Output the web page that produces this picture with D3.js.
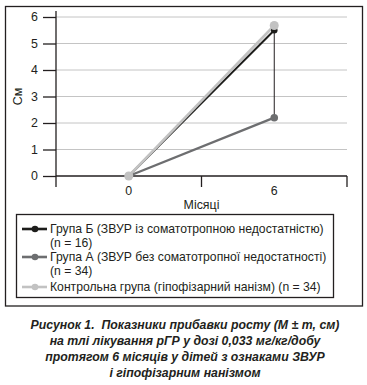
<!DOCTYPE html>
<html lang="uk">
<head>
<meta charset="utf-8">
<title>Рисунок 1</title>
<script src="https://cdn.jsdelivr.net/npm/d3@7"></script>
<style>
  html, body { margin: 0; padding: 0; background: #fff; }
  body { width: 367px; height: 385px; overflow: hidden; font-family: "Liberation Sans", Arial, sans-serif; }
  svg text { fill: #231f20; }
</style>
</head>
<body>
<div id="chart"></div>
<script>
// data
var months = ["0", "6"];
var groupB = [0, 5.5];
var groupA = [0, 2.2];
var control = [0, 5.68];
var yTicks = [0, 1, 2, 3, 4, 5, 6];
var legendLabels = [
  ["Група Б (ЗВУР із соматотропною недостатністю)", "(n = 16)"],
  ["Група А (ЗВУР без соматотропної недостатності)", "(n = 34)"],
  ["Контрольна група (гіпофізарний нанізм) (n = 34)"]
];
var captionLines = [
  "Рисунок 1.  Показники прибавки росту (М ± m, см)",
  "на тлі лікування рГР у дозі 0,033 мг/кг/добу",
  "протягом 6 місяців у дітей з ознаками ЗВУР",
  "і гіпофізарним нанізмом"
];

var W = 367, H = 385;
var svg = d3.select("#chart").append("svg").attr("width", W).attr("height", H);

// frame
svg.append("rect").attr("x", 5.5).attr("y", 6.5).attr("width", 357).attr("height", 299.5)
  .attr("fill", "none").attr("stroke", "#231f20").attr("stroke-width", 1.3);

var x = d3.scaleBand().domain(months).range([56, 347]);
var y = d3.scaleLinear().domain([0, 6]).range([176, 17]);

// gridlines
svg.append("g").selectAll("line").data(yTicks.filter(function(d) { return d > 0; })).enter()
  .append("line")
  .attr("x1", 56).attr("x2", 347)
  .attr("y1", function(d) { return y(d); }).attr("y2", function(d) { return y(d); })
  .attr("stroke", "#c4c4c4").attr("stroke-width", 1);

// y axis
var yAxis = svg.append("g").attr("transform", "translate(56,0)")
  .call(d3.axisLeft(y).tickValues(yTicks).tickFormat(d3.format("d")).tickSize(13).tickPadding(5));
yAxis.select(".domain").attr("d", "M0," + (y(6) - 6) + "V" + y(0)).attr("stroke", "#231f20").attr("stroke-width", 1.3);
yAxis.selectAll(".tick line").attr("stroke", "#231f20").attr("stroke-width", 1.3);
yAxis.selectAll(".tick text").attr("font-size", "12.4px").attr("font-family", "Liberation Sans, Arial, sans-serif").style("fill", "#231f20");

// x axis: ticks at band edges, labels at centers
var xAxisG = svg.append("g");
xAxisG.append("line").attr("x1", 56).attr("x2", 347).attr("y1", y(0)).attr("y2", y(0))
  .attr("stroke", "#231f20").attr("stroke-width", 1.3);
var edges = months.map(function(m) { return x(m); }).concat([x(months[months.length - 1]) + x.bandwidth()]);
xAxisG.selectAll(".edge").data(edges).enter().append("line")
  .attr("x1", function(d) { return d; }).attr("x2", function(d) { return d; })
  .attr("y1", y(0)).attr("y2", y(0) + 11)
  .attr("stroke", "#231f20").attr("stroke-width", 1.3);
xAxisG.selectAll(".lbl").data(months).enter().append("text")
  .attr("x", function(d) { return x(d) + x.bandwidth() / 2; })
  .attr("y", 195).attr("text-anchor", "middle").attr("font-size", "12.4px").text(function(d) { return d; });

svg.append("text").attr("x", x(months[0]) + x.bandwidth()).attr("y", 209)
  .attr("text-anchor", "middle").attr("font-size", "12.4px").text("Місяці");
svg.append("text").attr("transform", "translate(22," + y(3) + ") rotate(-90)")
  .attr("text-anchor", "middle").attr("font-size", "12.4px").text("См");

var cx = function(i) { return x(months[i]) + x.bandwidth() / 2; };

// connector between groups at 6 months
svg.append("line").attr("x1", cx(1)).attr("x2", cx(1))
  .attr("y1", y(groupB[1])).attr("y2", y(groupA[1]))
  .attr("stroke", "#231f20").attr("stroke-width", 1);

var series = [
  { values: groupA, color: "#6d6e70", w: 2.4, r: 3.8 },
  { values: groupB, color: "#1d1d1b", w: 2, r: 3.3 },
  { values: control, color: "#c2c2c2", w: 2.6, r: 4.5 }
];
var line = d3.line().x(function(d, i) { return cx(i); }).y(function(d) { return y(d); });
series.forEach(function(s) {
  svg.append("path").datum(s.values).attr("d", line)
    .attr("fill", "none").attr("stroke", s.color).attr("stroke-width", s.w);
});
series.forEach(function(s) {
  svg.selectAll(null).data(s.values).enter().append("circle")
    .attr("cx", function(d, i) { return cx(i); }).attr("cy", function(d) { return y(d); })
    .attr("r", s.r).attr("fill", s.color);
});

// legend
svg.append("rect").attr("x", 16.5).attr("y", 214.5).attr("width", 317).attr("height", 83)
  .attr("fill", "none").attr("stroke", "#231f20").attr("stroke-width", 1.3);
var legendColors = ["#1d1d1b", "#6d6e70", "#c2c2c2"];
var legendY = [229, 257, 287];
legendLabels.forEach(function(lines, i) {
  var g = svg.append("g");
  g.append("line").attr("x1", 22).attr("x2", 47).attr("y1", legendY[i]).attr("y2", legendY[i])
    .attr("stroke", legendColors[i]).attr("stroke-width", 2.6);
  g.append("circle").attr("cx", 35).attr("cy", legendY[i]).attr("r", 3.3).attr("fill", legendColors[i]);
  lines.forEach(function(t, j) {
    g.append("text").attr("x", 50).attr("y", legendY[i] + 4 + j * 14)
      .attr("font-size", "12.2px").text(t);
  });
});

// caption
svg.append("g").selectAll("text").data(captionLines).enter().append("text")
  .attr("x", 185).attr("y", function(d, i) { return 329 + i * 16; })
  .attr("text-anchor", "middle").attr("font-size", "12.3px")
  .attr("font-weight", "bold").attr("font-style", "italic")
  .style("white-space", "pre")
  .text(function(d) { return d; });
</script>
</body>
</html>
